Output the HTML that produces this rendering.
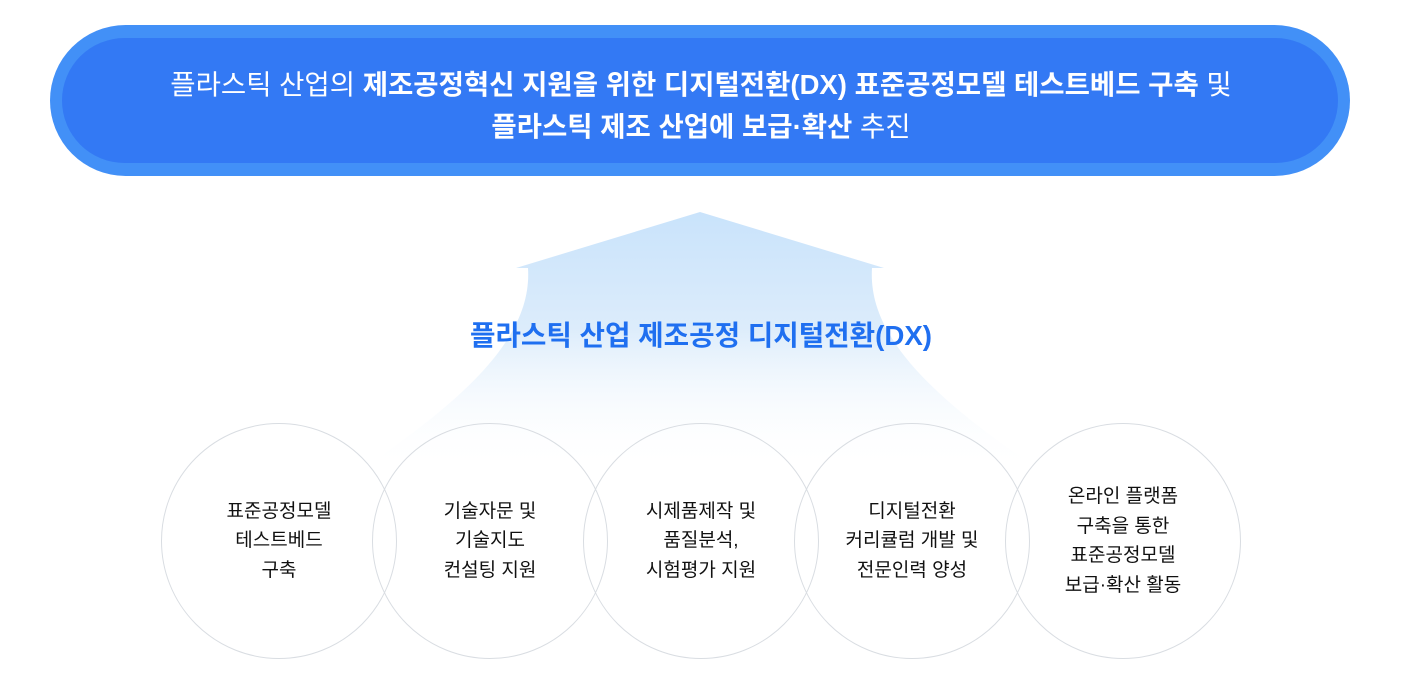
<!DOCTYPE html>
<html><head><meta charset="utf-8"><style>
body{margin:0;width:1402px;height:688px;background:#fff;position:relative;overflow:hidden;font-family:"Liberation Sans","Noto Sans CJK KR",sans-serif;}
.pill{position:absolute;left:50px;top:25px;width:1300px;height:151px;border-radius:76px;background:#4290f7;}
.pill .in{position:absolute;left:12px;top:13px;right:12px;bottom:13px;border-radius:64px;background:#3379f4;}
.pt{position:absolute;left:0;width:1402px;text-align:center;color:#fff;font-size:27.5px;white-space:nowrap;}
.pt b{font-weight:bold}
.c{position:absolute;width:234px;height:234px;border-radius:50%;border:1.5px solid #d9dde2;display:flex;align-items:center;justify-content:center;text-align:center;font-size:19px;line-height:29.5px;color:#111;}
</style></head><body>
<div class="pill"><div class="in"></div></div>
<div class="pt" style="top:62px">플라스틱 산업의 <b>제조공정혁신 지원을 위한 디지털전환(DX) 표준공정모델 테스트베드 구축</b> 및</div>
<div class="pt" style="top:104px"><b>플라스틱 제조 산업에 보급·확산</b> 추진</div>
<svg style="position:absolute;left:0;top:0" width="1402" height="688">
<defs><linearGradient id="g" x1="0" y1="0" x2="0" y2="1">
<stop offset="0" stop-color="#c9e3fb"/><stop offset="0.45" stop-color="#dcecfb"/><stop offset="1" stop-color="#ffffff" stop-opacity="0"/></linearGradient></defs>
<path d="M700 212 L884 268 L872 268 C868 330 920 390 1040 470 L360 470 C480 390 532 330 528 268 L516 268 Z" fill="url(#g)"/>
</svg>
<div class="pt" style="top:313px;color:#1f6ff0;font-size:27.7px;font-weight:bold">플라스틱 산업 제조공정 디지털전환(DX)</div>
<div class="c" style="left:161px;top:423px">표준공정모델<br>테스트베드<br>구축</div>
<div class="c" style="left:372px;top:423px">기술자문 및<br>기술지도<br>컨설팅 지원</div>
<div class="c" style="left:583px;top:423px">시제품제작 및<br>품질분석,<br>시험평가 지원</div>
<div class="c" style="left:794px;top:423px">디지털전환<br>커리큘럼 개발 및<br>전문인력 양성</div>
<div class="c" style="left:1005px;top:423px">온라인 플랫폼<br>구축을 통한<br>표준공정모델<br>보급·확산 활동</div>
</body></html>
